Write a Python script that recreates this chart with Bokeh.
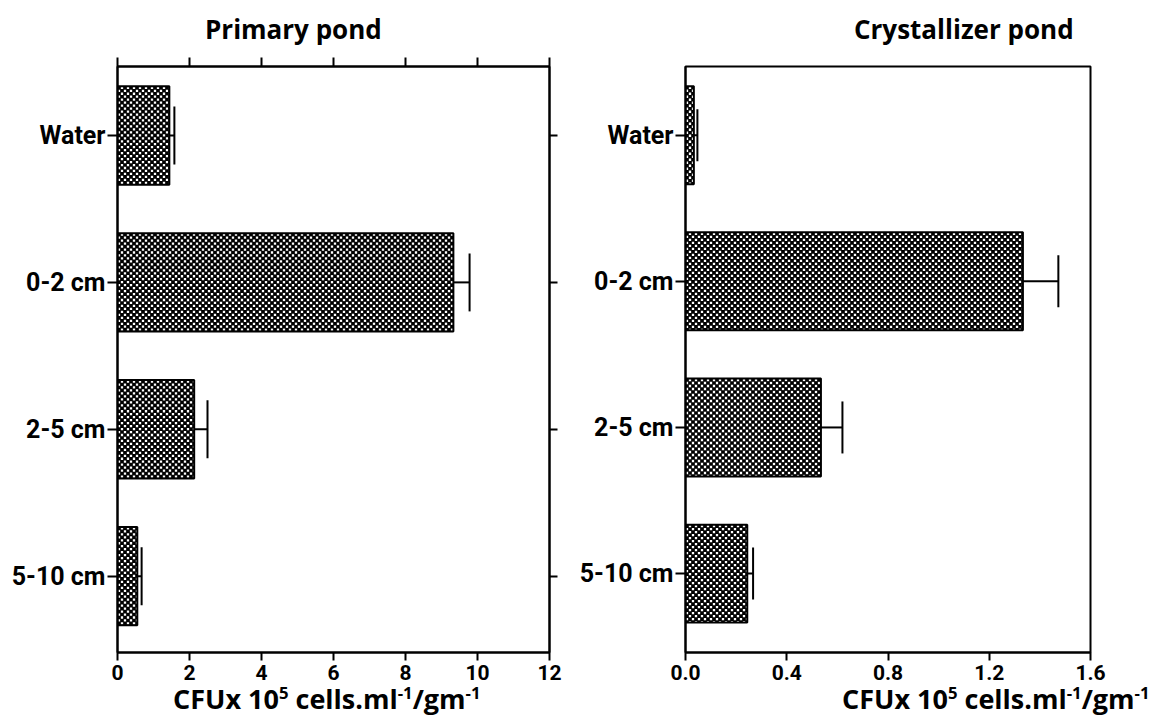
import math

from bokeh.plotting import figure
from bokeh.layouts import row, column
from bokeh.models import (ColumnDataSource, FixedTicker, LinearAxis, Range1d,
                          Whisker, TeeHead, Div, PrintfTickFormatter)
from bokeh.embed import file_html
from bokeh.resources import INLINE

# ---- data -------------------------------------------------------------
categories = ["Water", "0-2 cm", "2-5 cm", "5-10 cm"]

primary_mean = [1.44, 9.33, 2.13, 0.55]
primary_err = [0.14, 0.45, 0.37, 0.12]

crystal_mean = [0.033, 1.333, 0.535, 0.244]
crystal_err = [0.014, 0.140, 0.085, 0.023]

primary_ticks = [0, 2, 4, 6, 8, 10, 12]
crystal_ticks = [0.0, 0.4, 0.8, 1.2, 1.6]

primary_title = "Primary pond"
crystal_title = "Crystallizer pond"
x_title_html = ("CFUx 10<sup>5</sup> cells.ml<sup>-1</sup>/gm<sup>-1</sup>")

# ---- styling ----------------------------------------------------------
TICK_FONT = "Roboto"
TITLE_CSS = ("font-family:'Open Sans';font-weight:bold;color:black;"
             "white-space:nowrap;line-height:1;position:relative;")
SUP_CSS = "font-size:0.62em;vertical-align:0;position:relative;top:-0.62em;"

BAR_H = 0.67          # bar thickness in category units
CELL = 3              # checker cell size in pixels
BLEED = 0.35          # black cells drawn slightly larger than the white ones
FIG_H = 645           # height of the plotting canvases
HEAD_H = 45           # strip holding the panel titles
FOOT_H = 716 - FIG_H - HEAD_H

positions = [len(categories) - 1 - i for i in range(len(categories))]
cat_labels = {pos: cat for pos, cat in zip(positions, categories)}


def style_axis(ax):
    ax.axis_line_width = 2
    ax.axis_line_color = "black"
    ax.major_tick_line_width = 2
    ax.major_tick_line_color = "black"
    ax.minor_tick_line_color = None
    ax.major_tick_in = 0
    ax.major_tick_out = 9
    ax.major_label_text_font = TICK_FONT
    ax.major_label_text_font_style = "bold"
    ax.major_label_text_color = "black"


def bare_axis(ticks):
    # tick marks only, no labels
    ax = LinearAxis(ticker=FixedTicker(ticks=ticks),
                    major_label_overrides={t: "" for t in ticks})
    style_axis(ax)
    ax.major_label_standoff = 0
    ax.major_label_text_font_size = "1px"
    return ax


def checker_cells(mean, x_per_px, y_per_px):
    """Black cells of a checkerboard filling each bar."""
    left, right, bottom, top = [], [], [], []
    dx, dy = CELL * x_per_px, CELL * y_per_px
    bx, by = BLEED * x_per_px, BLEED * y_per_px
    for pos, m in zip(positions, mean):
        y0, y1 = pos - BAR_H / 2, pos + BAR_H / 2
        ncol = math.ceil(m / dx)
        nrow = math.ceil((y1 - y0) / dy)
        for j in range(nrow):
            b = y1 - (j + 1) * dy
            t = y1 - j * dy
            for i in range(ncol):
                if (i + j) % 2:
                    continue
                left.append(max(i * dx - bx, 0))
                right.append(min((i + 1) * dx + bx, m))
                bottom.append(max(b - by, y0))
                top.append(min(t + by, y1))
    return dict(left=left, right=right, bottom=bottom, top=top)


def panel(mean, err, x_end, ticks, width, border_left, frame_w,
          top, y_start, y_end, cap, full_frame):
    bottom_border = 38
    frame_h = FIG_H - top - bottom_border
    src = ColumnDataSource(dict(
        y=positions, mean=mean,
        top=[m + e for m, e in zip(mean, err)],
    ))
    p = figure(width=width, height=FIG_H, output_backend="svg",
               toolbar_location=None,
               x_range=Range1d(0, x_end), y_range=Range1d(y_start, y_end),
               min_border_left=border_left,
               min_border_right=width - border_left - frame_w,
               min_border_top=top, min_border_bottom=bottom_border)
    p.background_fill_color = "white"
    p.border_fill_color = "white"
    p.outline_line_color = "black"
    p.outline_line_width = 2
    p.xgrid.visible = False
    p.ygrid.visible = False

    # bar body, checker texture, then outline on top
    p.hbar(y="y", left=0, right="mean", height=BAR_H, source=src,
           fill_color="white", line_color=None)
    cells = checker_cells(mean, x_end / frame_w, (y_end - y_start) / frame_h)
    p.quad(source=ColumnDataSource(cells), left="left", right="right",
           bottom="bottom", top="top", fill_color="black", line_color=None)
    p.hbar(y="y", left=0, right="mean", height=BAR_H, source=src,
           fill_color=None, line_color="black", line_width=2)

    p.add_layout(Whisker(source=src, base="y", lower="mean", upper="top",
                         dimension="width", line_width=2, line_color="black",
                         lower_head=None,
                         upper_head=TeeHead(size=cap, line_width=2,
                                            line_color="black")))

    xa = p.xaxis[0]
    xa.ticker = FixedTicker(ticks=ticks)
    style_axis(xa)
    xa.major_tick_out = 8
    xa.major_label_text_font_size = "21px"
    xa.major_label_standoff = 4
    if x_end < 5:
        xa.formatter = PrintfTickFormatter(format="%.1f")

    ya = p.yaxis[0]
    ya.ticker = FixedTicker(ticks=positions)
    ya.major_label_overrides = cat_labels
    style_axis(ya)
    ya.major_tick_out = 10
    ya.major_label_text_font_size = "25px"
    ya.major_label_standoff = 2

    if full_frame:
        p.add_layout(bare_axis(ticks), "above")
        right_ax = bare_axis(positions)
        right_ax.major_tick_out = 8
        p.add_layout(right_ax, "right")
    return p


def text_div(html, width, height, left, shift, size):
    return Div(text=f'<div style="{TITLE_CSS}font-size:{size}px;'
                    f'padding-left:{left}px;top:{shift}px;">{html}</div>',
               width=width, height=height, margin=0)


W_LEFT, W_RIGHT = 576, 593

left = panel(primary_mean, primary_err, 12, primary_ticks, W_LEFT, 117, 432,
             15, -0.52, 3.47, 58, True)
right = panel(crystal_mean, crystal_err, 1.6, crystal_ticks, W_RIGHT, 109, 405,
              21, -0.54, 3.47, 52, False)

x_html = x_title_html.replace("<sup>", f'<sup style="{SUP_CSS}">')

layout = column(
    row(text_div(primary_title, W_LEFT, HEAD_H, 205, 16, 26),
        text_div(crystal_title, W_RIGHT, HEAD_H, 278, 16, 26)),
    row(left, right),
    row(text_div(x_html, W_LEFT, FOOT_H, 173, -5, 27),
        text_div(x_html, W_RIGHT, FOOT_H, 266, -5, 27)),
)
open("out.html", "w").write(file_html(layout, INLINE))
